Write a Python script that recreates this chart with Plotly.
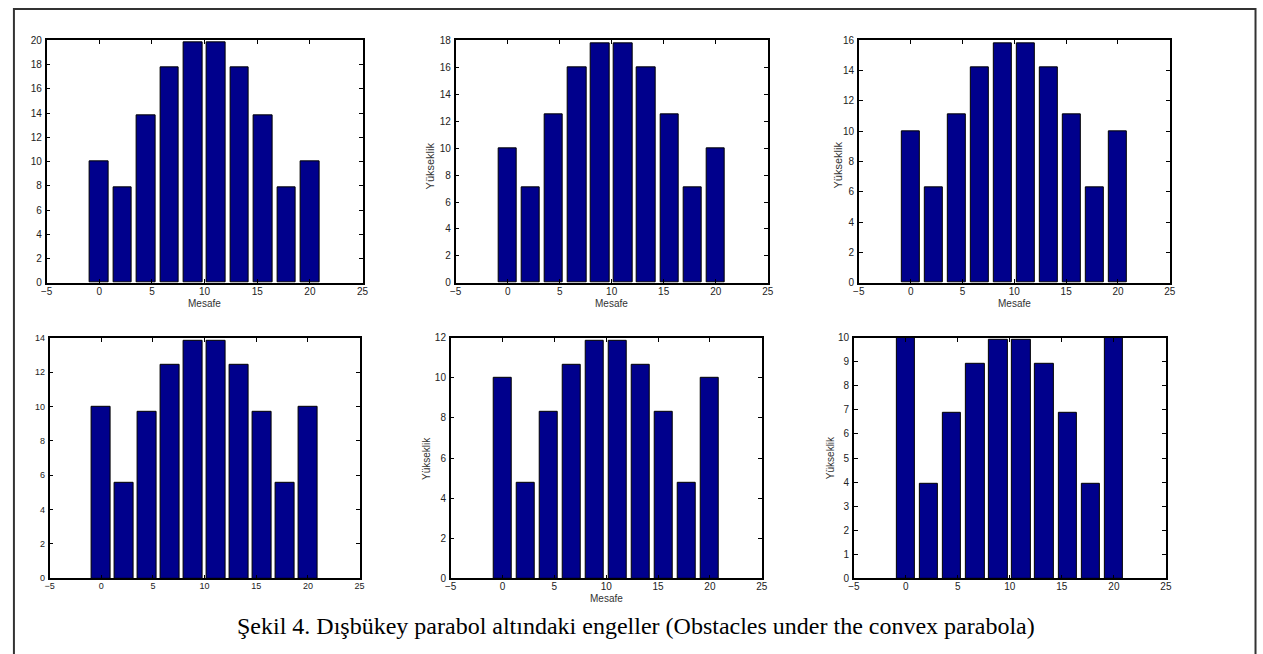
import plotly.graph_objects as go

W, H = 1263, 654

positions = [0, 2.222, 4.444, 6.667, 8.889, 11.111, 13.333, 15.556, 17.778, 20]
bar_width = 1.78

heights_1 = [10, 7.9, 13.85, 17.8, 19.8, 19.8, 17.8, 13.85, 7.9, 10]
heights_2 = [10, 7.1, 12.5, 16.0, 17.8, 17.8, 16.0, 12.5, 7.1, 10]
heights_3 = [10, 6.3, 11.1, 14.2, 15.8, 15.8, 14.2, 11.1, 6.3, 10]
heights_4 = [10, 5.55, 9.7, 12.45, 13.8, 13.8, 12.45, 9.7, 5.55, 10]
heights_5 = [10, 4.75, 8.3, 10.65, 11.85, 11.85, 10.65, 8.3, 4.75, 10]
heights_6 = [10, 3.95, 6.9, 8.9, 9.9, 9.9, 8.9, 6.9, 3.95, 10]

y_max = [20, 18, 16, 14, 12, 10]
y_step = [2, 2, 2, 2, 2, 1]
x_ticks = [-5, 0, 5, 10, 15, 20, 25]

x_title = "Mesafe"
y_title = "Yükseklik"
caption = "Şekil 4. Dışbükey parabol altındaki engeller (Obstacles under the convex parabola)"

# panel boxes in pixels: (left, right, top, bottom)
boxes = [
    (41, 360, 35, 282),
    (454, 769, 35, 282),
    (861, 1175, 35, 282),
    (44, 357, 338, 583),
    (449, 763, 338, 583),
    (856, 1171, 338, 583),
]
show_xtitle = [True, True, True, False, True, False]
show_ytitle = [False, True, True, False, True, True]
ytitle_dx = [0, 26, 22, 0, 25, 24]
ytitle_dy = [0, 4, 4, 0, 0, 0]
ytitle_size = [11, 11, 11, 10, 10, 10]
tick_font = [10, 10, 10, 9, 10, 10]

all_heights = [heights_1, heights_2, heights_3, heights_4, heights_5, heights_6]

fig = go.Figure()
layout = dict(
    width=W, height=H,
    margin=dict(l=0, r=0, t=0, b=0, pad=0),
    paper_bgcolor="white", plot_bgcolor="white",
    showlegend=False,
    bargap=0,
)
annotations = []
shapes = []

for i, (hs, box) in enumerate(zip(all_heights, boxes)):
    n = i + 1
    xa = "x" if n == 1 else f"x{n}"
    ya = "y" if n == 1 else f"y{n}"
    fig.add_trace(go.Bar(
        x=positions, y=hs, width=bar_width,
        marker=dict(color="#00008C", line=dict(color="black", width=1)),
        xaxis=xa, yaxis=ya, hoverinfo="x+y",
    ))
    l, r, t, b = box
    xd = [l / W, r / W]
    yd = [1 - b / H, 1 - t / H]
    axis_common = dict(
        showline=True, linecolor="black", linewidth=1.5, mirror="allticks",
        ticks="inside", ticklen=4, tickcolor="black", tickwidth=1,
        showgrid=False, zeroline=False,
        tickfont=dict(family="Liberation Sans, Arial", size=tick_font[i], color="#222"),
    )
    layout["xaxis" if n == 1 else f"xaxis{n}"] = dict(
        domain=xd, range=[-5, 25], tickvals=x_ticks, anchor=ya, ticklabelstandoff=-2,
        **axis_common,
    )
    layout["yaxis" if n == 1 else f"yaxis{n}"] = dict(
        domain=yd, range=[0, y_max[i]], dtick=y_step[i], tick0=0, anchor=xa,
        ticklabelstandoff=1,
        **axis_common,
    )
    if show_xtitle[i]:
        annotations.append(dict(
            text=x_title, xref="paper", yref="paper",
            x=(l + r) / 2 / W, y=1 - (b + 21) / H,
            showarrow=False, xanchor="center", yanchor="middle",
            font=dict(family="Liberation Sans, Arial", size=10, color="#333"),
        ))
    if show_ytitle[i]:
        annotations.append(dict(
            text=y_title, xref="paper", yref="paper",
            x=(l - ytitle_dx[i]) / W, y=1 - ((t + b) / 2 + ytitle_dy[i]) / H,
            showarrow=False, textangle=-90, xanchor="center", yanchor="middle",
            font=dict(family="Liberation Sans, Arial", size=ytitle_size[i], color="#333"),
        ))

annotations.append(dict(
    text=caption, xref="paper", yref="paper",
    x=636 / W, y=1 - 632 / H, showarrow=False,
    xanchor="center", yanchor="middle",
    font=dict(family="Liberation Serif, Times New Roman", size=24, color="black"),
))

shapes.append(dict(
    type="rect", xref="paper", yref="paper",
    x0=8 / W, x1=1261.5 / W, y0=-0.05, y1=1 - 3 / H,
    line=dict(color="#333", width=2), fillcolor="rgba(0,0,0,0)", layer="below",
))

layout["annotations"] = annotations
layout["shapes"] = shapes
fig.update_layout(**layout)
fig.write_html(
    "out.html",
    config={"displayModeBar": False},
    post_script=(
        "document.documentElement.style.overflow='hidden';"
        "document.body.style.margin='0';document.body.style.padding='0';"
        "document.body.style.overflow='hidden';"
    ),
)
